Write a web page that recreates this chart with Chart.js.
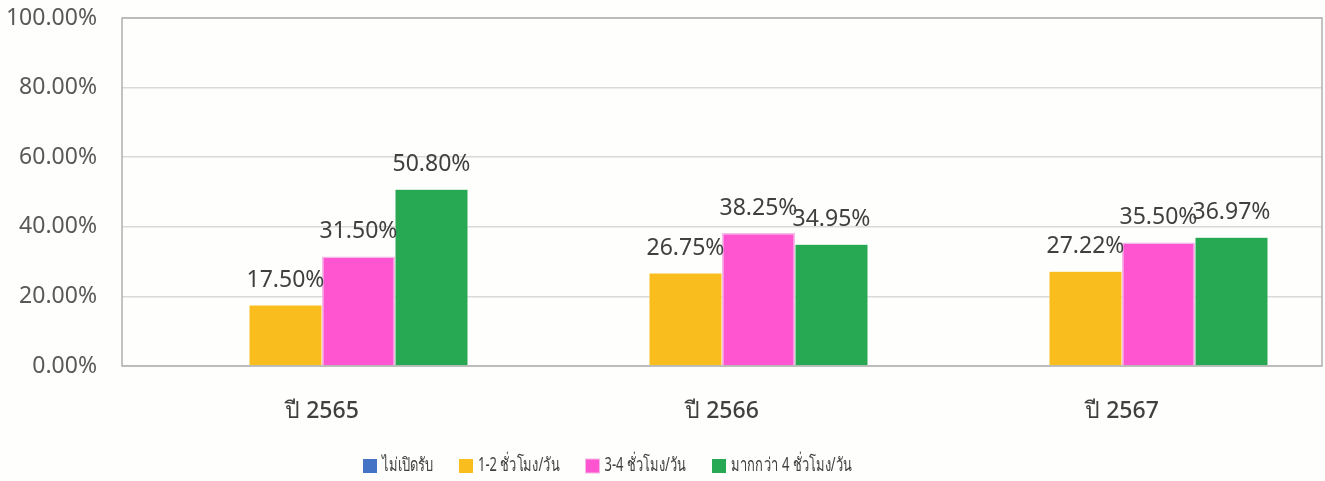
<!DOCTYPE html>
<html>
<head>
<meta charset="utf-8">
<script src="https://cdn.jsdelivr.net/npm/chart.js@4/dist/chart.umd.min.js"></script>
<style>
html,body{margin:0;padding:0;background:#fefefc}
#wrap{width:1325px;height:481px;position:relative}
</style>
</head>
<body>
<div id="wrap"><canvas id="c"></canvas></div>
<script>
'use strict';
// ══ ข้อมูล ══
const years=['ปี 2565','ปี 2566','ปี 2567'];
const seriesNames=['ไม่เปิดรับ','1-2 ชั่วโมง/วัน','3-4 ชั่วโมง/วัน','มากกว่า 4 ชั่วโมง/วัน'];
const noneVals=[0,0,0];
const h12Vals=[17.50,26.75,27.22];
const h34Vals=[31.50,38.25,35.50];
const over4Vals=[50.80,34.95,36.97];
const yTicks=[0,20,40,60,80,100];
const colors=['#4472c4','#f9be1e','#ff55d0','#27a853'];

const FONT="'Noto Sans','Open Sans',sans-serif";
const pct=v=>v.toFixed(2)+'%';

// value labels above bars (skip zeros)
const barLabels={
  id:'barLabels',
  afterDatasetsDraw(chart){
    const ctx=chart.ctx;
    ctx.save();
    ctx.font='23px '+FONT;ctx.fillStyle='#404040';ctx.textAlign='center';ctx.textBaseline='alphabetic';
    chart.data.datasets.forEach((ds,di)=>{
      chart.getDatasetMeta(di).data.forEach((bar,i)=>{
        const v=ds.data[i];if(!v)return;
        ctx.fillText(pct(v),bar.x,bar.y-18);
      });
    });
    ctx.restore();
  }
};
// outer border of the plot area
const plotBorder={
  id:'plotBorder',
  beforeDatasetsDraw(chart){
    const {ctx,chartArea:a}=chart;
    ctx.save();ctx.strokeStyle='#b0b0b0';ctx.lineWidth=1.5;
    ctx.strokeRect(a.left,a.top,a.right-a.left,a.bottom-a.top);
    ctx.restore();
  }
};
// legend row (narrow font like the original)
const legendRow={
  id:'legendRow',
  afterDraw(chart){
    const ctx=chart.ctx,sx=0.68,box=14,gap=5,itemGap=26,y=466;
    ctx.save();
    ctx.font='19px '+FONT;ctx.textBaseline='middle';
    let x=363;
    seriesNames.forEach((n,i)=>{
      ctx.fillStyle=colors[i];ctx.fillRect(x,y-box/2,box,box);
      if(i===2){ctx.strokeStyle='#f2b8e6';ctx.lineWidth=1;ctx.strokeRect(x,y-box/2,box,box)}
      x+=box+gap;
      const w=ctx.measureText(n).width*sx;
      ctx.save();ctx.translate(x,y);ctx.scale(sx,1);ctx.fillStyle='#404040';ctx.fillText(n,0,0);ctx.restore();
      x+=w+itemGap;
    });
    ctx.restore();
  }
};

const data=[noneVals,h12Vals,h34Vals,over4Vals];
new Chart(document.getElementById('c'),{
  type:'bar',
  data:{labels:years,datasets:seriesNames.map((n,i)=>({
    label:n,data:data[i],backgroundColor:colors[i],
    borderColor:i===2?'#f2b8e6':'rgba(255,255,255,0.6)',borderWidth:i===2?1.5:0.5,
    categoryPercentage:0.73,barPercentage:1
  }))},
  options:{
    responsive:true,maintainAspectRatio:false,animation:false,
    layout:{padding:{top:0,right:3,left:0,bottom:0}},
    plugins:{legend:{display:false},tooltip:{enabled:false}},
    scales:{
      x:{grid:{display:false},border:{display:false},
        afterFit(s){s.height=115},
        ticks:{font:{size:23,family:FONT,weight:'500'},color:'#404040',padding:24}},
      y:{min:0,max:100,
        afterBuildTicks(s){s.ticks=yTicks.map(v=>({value:v}))},
        afterFit(s){s.width=122;s.paddingTop=18;s.paddingBottom=0},
        grid:{color:'#d9d9d9',lineWidth:1.5,drawTicks:false},border:{display:false},
        ticks:{font:{size:23,family:FONT},color:'#595959',padding:25,callback:v=>pct(v)}}
    }
  },
  plugins:[barLabels,plotBorder,legendRow]
});
</script>
</body>
</html>
